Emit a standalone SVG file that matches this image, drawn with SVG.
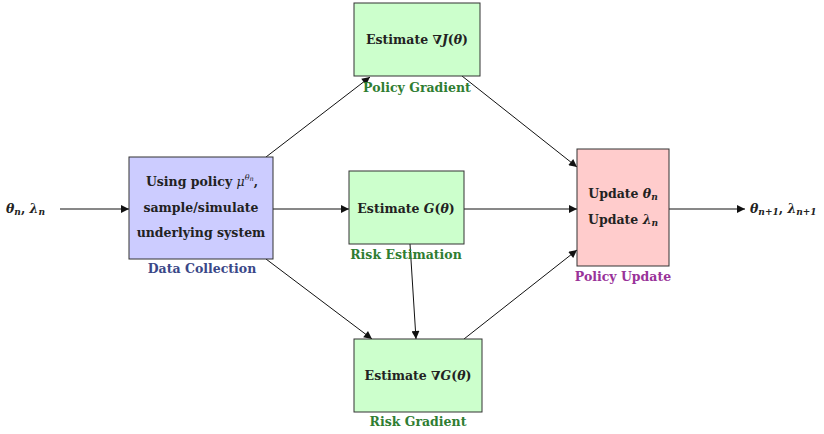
<svg xmlns="http://www.w3.org/2000/svg" width="824" height="434" viewBox="0 0 824 434">
<style>
.box{stroke:#333;stroke-width:1}
.t{font-family:"DejaVu Serif","Liberation Serif",serif;font-weight:bold;font-size:12.5px;fill:#222;text-anchor:middle}
.st{text-anchor:start}
.m{font-style:italic}
.s{font-style:italic;font-size:9px}
.lbl{font-family:"DejaVu Serif","Liberation Serif",serif;font-weight:bold;font-size:12.5px;text-anchor:middle}
.e{stroke:#111;stroke-width:1;fill:none;marker-end:url(#ah)}
</style>
<defs>
<marker id="ah" viewBox="0 0 10 10" refX="10" refY="5" markerWidth="10" markerHeight="8" markerUnits="userSpaceOnUse" orient="auto">
<path d="M0,0 L10,5 L0,10 z" fill="#111"/>
</marker>
</defs>
<rect width="824" height="434" fill="#fff"/>
<g id="connectors">
<line class="e" x1="60" y1="209" x2="129" y2="209"/>
<line class="e" x1="266" y1="157" x2="370" y2="77"/>
<line class="e" x1="273" y1="209" x2="349" y2="209"/>
<line class="e" x1="266" y1="259" x2="372" y2="339"/>
<line class="e" x1="410" y1="244" x2="416" y2="339"/>
<line class="e" x1="462" y1="76" x2="577" y2="167"/>
<line class="e" x1="464" y1="209" x2="577" y2="209"/>
<line class="e" x1="464" y1="339" x2="577" y2="250"/>
<line class="e" x1="669" y1="209" x2="745" y2="209"/>
</g>
<g id="input">
<text class="t st" x="6" y="213"><tspan class="m">θ</tspan><tspan class="s" dy="2">n</tspan><tspan dy="-2">, </tspan><tspan class="m">λ</tspan><tspan class="s" dy="2">n</tspan></text>
</g>
<g id="data">
<rect class="box" x="129" y="157" width="144" height="102" fill="#ccccff"/>
<text class="t" x="202" y="186">Using policy <tspan class="m" font-weight="normal">μ</tspan><tspan class="m" font-weight="normal" font-size="8" dy="-6">θ</tspan><tspan class="m" font-weight="normal" font-size="6.5" dy="1">n</tspan><tspan dy="5">,</tspan></text>
<text class="t" x="201" y="212">sample/simulate</text>
<text class="t" x="201" y="237">underlying system</text>
<text class="lbl" x="202" y="273" fill="#3a4888">Data Collection</text>
</g>
<g id="pgrad">
<rect class="box" x="354" y="3" width="126" height="73" fill="#ccffcc"/>
<text class="t" x="417" y="44">Estimate ∇<tspan class="m">J</tspan>(<tspan class="m">θ</tspan>)</text>
<text class="lbl" x="417" y="92" fill="#2f7d32">Policy Gradient</text>
</g>
<g id="riskest">
<rect class="box" x="349" y="171" width="115" height="73" fill="#ccffcc"/>
<text class="t" x="406" y="213">Estimate <tspan class="m">G</tspan>(<tspan class="m">θ</tspan>)</text>
<text class="lbl" x="406" y="259" fill="#2f7d32">Risk Estimation</text>
</g>
<g id="riskgrad">
<rect class="box" x="354" y="339" width="128" height="73" fill="#ccffcc"/>
<text class="t" x="418" y="380">Estimate ∇<tspan class="m">G</tspan>(<tspan class="m">θ</tspan>)</text>
<text class="lbl" x="418" y="426" fill="#2f7d32">Risk Gradient</text>
</g>
<g id="update">
<rect class="box" x="577" y="149" width="92" height="117" fill="#ffcccc"/>
<text class="t" x="623" y="198">Update <tspan class="m">θ</tspan><tspan class="s" dy="2">n</tspan></text>
<text class="t" x="623" y="224">Update  <tspan class="m">λ</tspan><tspan class="s" dy="2">n</tspan></text>
<text class="lbl" x="623" y="281" fill="#993399">Policy Update</text>
</g>
<g id="output">
<text class="t st" x="750" y="213"><tspan class="m">θ</tspan><tspan class="s" dy="2">n+1</tspan><tspan dy="-2">, </tspan><tspan class="m">λ</tspan><tspan class="s" dy="2">n+1</tspan></text>
</g>
</svg>
